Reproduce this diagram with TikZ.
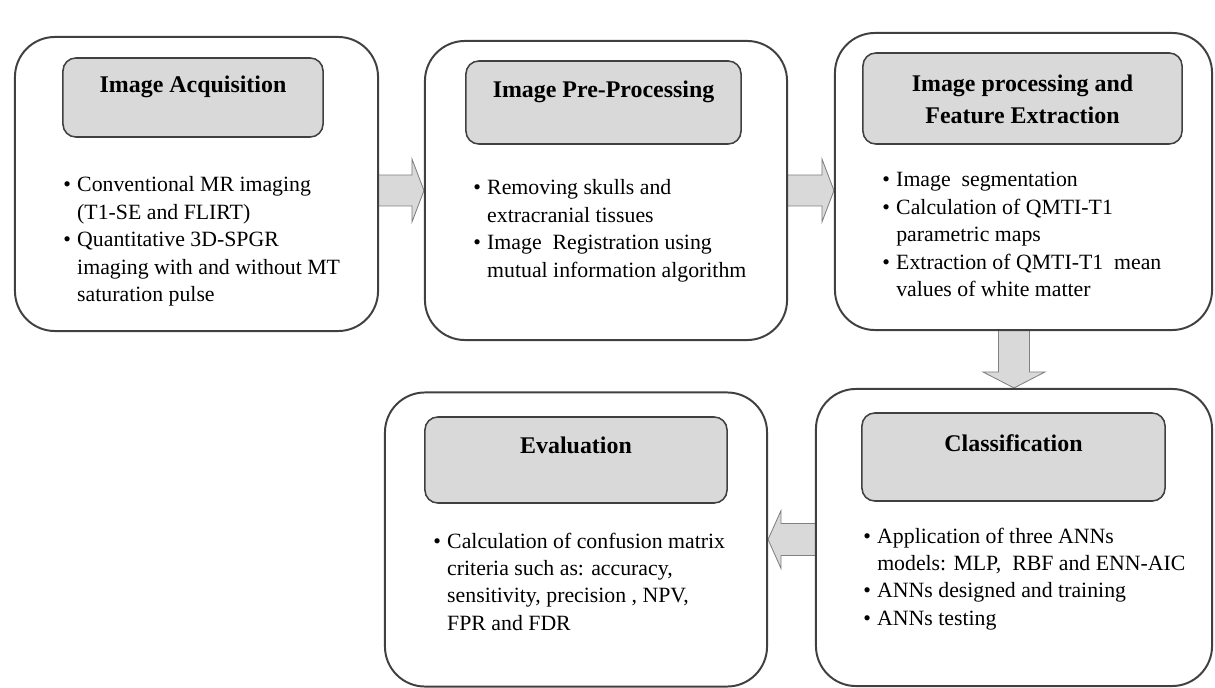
\documentclass[tikz,border=0pt]{standalone}
\usepackage{fontspec}
\setmainfont{Liberation Serif}
\usetikzlibrary{positioning,calc,backgrounds}
\definecolor{boxline}{HTML}{404040}
\definecolor{headfill}{HTML}{D9D9D9}
\definecolor{arrowfill}{HTML}{D9D9D9}
\definecolor{arrowline}{HTML}{808080}
\tikzset{
    stagebox/.style={draw=boxline, line width=1.4pt, fill=white, rounded corners=1cm, inner sep=0},
    headbox/.style={draw=boxline, line width=1.1pt, fill=headfill, rounded corners=0.32cm, inner sep=0},
    headtext/.style={font=\fontsize{17}{23}\selectfont\bfseries, align=center, inner sep=0},
    bodytext/.style={font=\fontsize{15.5}{19.5}\selectfont, anchor=base west, inner sep=0},
    blkarrow/.style={draw=arrowline, line width=0.6pt, fill=arrowfill, line join=miter}
}
\newcommand{\steplist}[1]{\begin{tabular}[t]{@{}l@{\hspace{4.5pt}}l@{}}#1\end{tabular}}
\begin{document}
\begin{tikzpicture}[x=0.025cm,y=-0.025cm]
        \useasboundingbox (0,0) rectangle (1215,688);
        % Draw the five stages
        \node[stagebox, minimum width=9.075cm, minimum height=7.35cm] (acq) at (196.5,184) {};
        \node[stagebox, minimum width=9.05cm, minimum height=7.475cm] (pre) at (606,190.5) {};
        \node[stagebox, minimum width=9.425cm, minimum height=7.425cm] (proc) at (1023.5,181.5) {};
        \node[stagebox, minimum width=9.9cm, minimum height=7.425cm] (cls) at (1014,537.5) {};
        \node[stagebox, minimum width=9.55cm, minimum height=7.35cm] (eva) at (576,539.5) {};
        % Draw grey title boxes
        \node[headbox, minimum width=6.5cm, minimum height=1.975cm] (acqh) at (193,97.5) {};
        \node[headbox, minimum width=6.875cm, minimum height=2.075cm] (preh) at (603.5,102.5) {};
        \node[headbox, minimum width=7.975cm, minimum height=2.275cm] (proch) at (1022.5,98.5) {};
        \node[headbox, minimum width=7.575cm, minimum height=2.2cm] (clsh) at (1013.5,457) {};
        \node[headbox, minimum width=7.55cm, minimum height=2.15cm] (evah) at (576,460) {};
        % Draw titles
        \node[headtext, below=0.47cm of acqh.north] (acqt) {Image Acquisition};
        \node[headtext, below=0.52cm of preh.north] (pret) {Image Pre-Processing};
        \node[headtext, below=0.55cm of proch.north] (proct) {Image processing and\\Feature Extraction};
        \node[headtext, below=0.55cm of clsh.north] (clst) {Classification};
        \node[headtext, below=0.52cm of evah.north] (evat) {Evaluation};
        % Draw bullet points
        \node[bodytext] (acqb) at (63,192) {\steplist{
            \textbullet & Conventional MR imaging\\
                        & (T1-SE and FLIRT)\\
            \textbullet & Quantitative 3D-SPGR\\
                        & imaging with and without MT\\
                        & saturation pulse}};
        \node[bodytext] (preb) at (473,195) {\steplist{
            \textbullet & Removing skulls and\\
                        & extracranial tissues\\
            \textbullet & Image\ \ Registration using\\
                        & mutual information algorithm}};
        \node[bodytext] (procb) at (882,187) {\steplist{
            \textbullet & Image\ \ segmentation\\
            \textbullet & Calculation of QMTI-T1\\
                        & parametric maps\\
            \textbullet & Extraction of QMTI-T1\ \ mean\\
                        & values of white matter}};
        \node[bodytext] (clsb) at (863,543) {\steplist{
            \textbullet & Application of three ANNs\\
                        & models: MLP,\ \ RBF and ENN-AIC\\
            \textbullet & ANNs designed and training\\
            \textbullet & ANNs testing}};
        \node[bodytext] (evab) at (433,548) {\steplist{
            \textbullet & Calculation of confusion matrix\\
                        & criteria such as: accuracy,\\
                        & sensitivity, precision , NPV,\\
                        & FPR and FDR}};
        % Draw block arrows behind the stages
        \begin{scope}[on background layer]
        \draw[blkarrow] ($(acq.east |- pre.west)+(-6,-15.5)$) -- ($(pre.west)+(-12,-15.5)$) -- ($(pre.west)+(-12,-31.5)$) -- (pre.west)
            -- ($(pre.west)+(-12,31.5)$) -- ($(pre.west)+(-12,15.5)$) -- ($(acq.east |- pre.west)+(-6,15.5)$) -- cycle;
        \draw[blkarrow] ($(pre.east)+(-6,-15.5)$) -- ($(proc.west |- pre.east)+(-12,-15.5)$) -- ($(proc.west |- pre.east)+(-12,-31.5)$) -- (proc.west |- pre.east)
            -- ($(proc.west |- pre.east)+(-12,31.5)$) -- ($(proc.west |- pre.east)+(-12,15.5)$) -- ($(pre.east)+(-6,15.5)$) -- cycle;
        \draw[blkarrow] ($(cls.north |- proc.south)+(-15.5,-6)$) -- ($(cls.north)+(-15.5,-16)$) -- ($(cls.north)+(-31,-16)$) -- (cls.north)
            -- ($(cls.north)+(31,-16)$) -- ($(cls.north)+(15.5,-16)$) -- ($(cls.north |- proc.south)+(15.5,-6)$) -- cycle;
        \draw[blkarrow] ($(cls.west |- eva.east)+(6,-16)$) -- ($(eva.east)+(13,-16)$) -- ($(eva.east)+(13,-29)$) -- (eva.east)
            -- ($(eva.east)+(13,29)$) -- ($(eva.east)+(13,16)$) -- ($(cls.west |- eva.east)+(6,16)$) -- cycle;
        \end{scope}
\end{tikzpicture}
\end{document}
